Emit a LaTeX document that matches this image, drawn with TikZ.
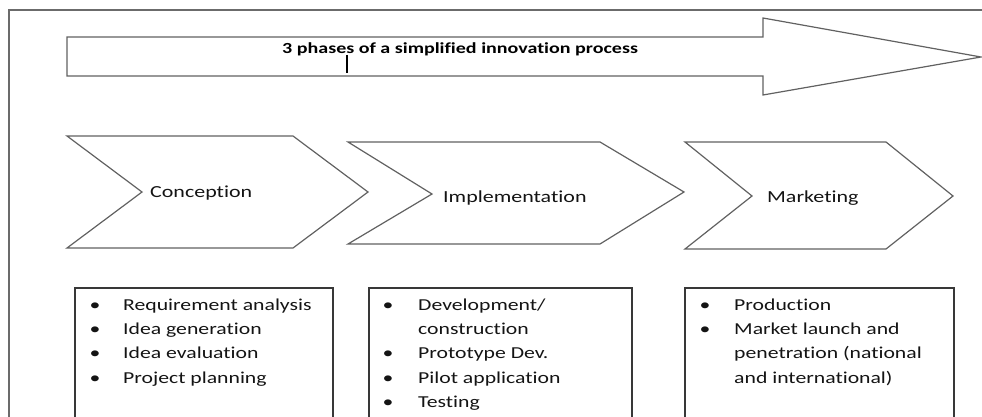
\documentclass[tikz,border=0pt]{standalone}
\usepackage{fontspec}
\setmainfont[FakeStretch=1.3, Ligatures={NoCommon}]{Carlito}

\tikzset{
  outline/.style={draw=black!62, line width=1.2pt, line join=miter},
  frame/.style={draw=black!58, line width=1.4pt},
  listbox/.style={draw=black!78, line width=1.3pt},
  phase/.style={anchor=base west, inner sep=0pt, text=black!92,
    font=\fontsize{16.9}{20}\selectfont},
  item/.style={anchor=base west, inner sep=0pt, text=black!92,
    font=\fontsize{16.7}{20}\selectfont},
  bul/.style={anchor=base, inner sep=0pt, text=black!92,
    font=\fontsize{16.7}{20}\selectfont},
}

\begin{document}
\begin{tikzpicture}[x=1pt, y=-1pt]
\useasboundingbox (0,0) rectangle (982,417);
\clip (0,0) rectangle (982,417);
% Rahmen
	\draw [frame] (9,440) -- (9,10) -- (995,10);
% grosser Pfeil
	\draw [outline] (67,37) -- (763,37) -- (763,18) -- (981,57) -- (763,95) -- (763,76) -- (67,76) -- cycle;
	\node [anchor=base west, inner sep=0pt, text=black, font=\bfseries\fontsize{15.4}{18}\selectfont] (title) at (282,54) {3 phases of a simplified innovation process};
	\draw [black, line width=1.3pt] (347,55) -- (347,73);
% Phasen
	\draw [outline] (67,136) -- (293,136) -- (368,192) -- (293,248) -- (67,248) -- (142,192) -- cycle;
	\node [phase] (conc) at (150,197) {Conception};
	\draw [outline] (348,142) -- (600,142) -- (684,192) -- (600,244) -- (348,244) -- (432,194) -- cycle;
	\node [phase] (impl) at (443,202) {Implementation};
	\draw [outline] (685,142) -- (886,142) -- (953,196) -- (886,249) -- (685,249) -- (752,196) -- cycle;
	\node [phase] (mark) at (767,202) {Marketing};
% Kaesten
	\draw [listbox] (75,288) rectangle (333,440);
	\draw [listbox] (369,288) rectangle (632,440);
	\draw [listbox] (685,288) rectangle (954,440);
	% Konzeption
	\node [bul] (cb1) at (95,310) {\textbullet};
	\node [item] (ci1) at (123,310) {Requirement analysis};
	\node [bul] (cb2) at (95,334) {\textbullet};
	\node [item] (ci2) at (123,334) {Idea generation};
	\node [bul] (cb3) at (95,358) {\textbullet};
	\node [item] (ci3) at (123,358) {Idea evaluation};
	\node [bul] (cb4) at (95,383) {\textbullet};
	\node [item] (ci4) at (123,383) {Project planning};
	% Umsetzung
	\node [bul] (ib1) at (388,310) {\textbullet};
	\node [item] (ii1) at (418,310) {Development/};
	\node [item] (ii1b) at (418,334) {construction};
	\node [bul] (ib2) at (388,358) {\textbullet};
	\node [item] (ii2) at (418,358) {Prototype Dev.};
	\node [bul] (ib3) at (388,383) {\textbullet};
	\node [item] (ii3) at (418,383) {Pilot application};
	\node [bul] (ib4) at (388,407) {\textbullet};
	\node [item] (ii4) at (418,407) {Testing};
	% Vermarktung
	\node [bul] (mb1) at (705,310) {\textbullet};
	\node [item] (mi1) at (734,310) {Production};
	\node [bul] (mb2) at (705,334) {\textbullet};
	\node [item] (mi2) at (734,334) {Market launch and};
	\node [item] (mi2b) at (734,358) {penetration (national};
	\node [item] (mi2c) at (734,383) {and international)};
\end{tikzpicture}
\end{document}
